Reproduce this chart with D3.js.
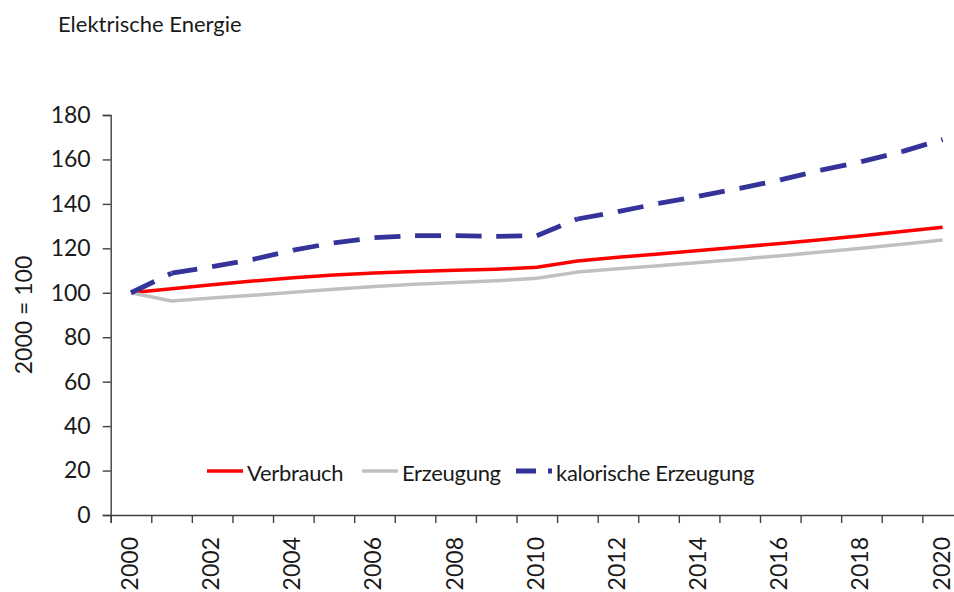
<!DOCTYPE html>
<html>
<head>
<meta charset="utf-8">
<script src="https://cdn.jsdelivr.net/npm/d3@7"></script>
<style>
    html, body { margin: 0; padding: 0; background: #fff; }
    svg { display: block; font-family: Lato, "Noto Sans", sans-serif; }
</style>
</head>
<body>
<svg id="chart" width="954" height="592"></svg>
<script>

// Categories and series (2000 = 100).
const years = [2000, 2001, 2002, 2003, 2004, 2005, 2006, 2007, 2008, 2009, 2010,
    2011, 2012, 2013, 2014, 2015, 2016, 2017, 2018, 2019, 2020];

const verbrauch = [100, 101.8, 103.6, 105.3, 106.8, 108.0, 108.9, 109.6, 110.1, 110.6, 111.5,
    114.3, 116.0, 117.5, 119.0, 120.6, 122.2, 123.9, 125.7, 127.6, 129.5];

const erzeugung = [100, 96.3, 97.6, 98.9, 100.2, 101.6, 102.8, 103.8, 104.6, 105.4, 106.5,
    109.3, 110.8, 112.2, 113.6, 115.1, 116.7, 118.3, 120.0, 121.8, 123.7];

const kalorisch = [100, 108.8, 111.8, 115.0, 119.2, 122.5, 124.8, 125.7, 125.7, 125.4, 125.7,
    133.2, 136.5, 140.2, 143.5, 147.0, 150.8, 155.2, 159.0, 163.5, 169.0];

const yTicks = [0, 20, 40, 60, 80, 100, 120, 140, 160, 180];
const xTickLabels = [2000, 2002, 2004, 2006, 2008, 2010, 2012, 2014, 2016, 2018, 2020];

const series = [
    { name: 'Verbrauch', values: verbrauch, color: '#ff0000', width: 3.5 },
    { name: 'Erzeugung', values: erzeugung, color: '#c0c0c0', width: 3.5 },
    { name: 'kalorische Erzeugung', values: kalorisch, color: '#333399', width: 4.8, dashed: true }
];

const svg = d3.select('#chart');
const ink = '#1a1a1a';
const axisColor = '#404040';

// The plot runs past the right edge of the picture, as in the reference.
const plot = { left: 110.7, right: 962.9, top: 115, bottom: 515 };

const x = d3.scaleBand().domain(years).range([plot.left, plot.right]).padding(0);
const y = d3.scaleLinear().domain([0, 180]).range([plot.bottom, plot.top]);
const cx = year => x(year) + x.bandwidth() / 2;

// Title
svg.append('text')
    .attr('x', 58).attr('y', 32)
    .attr('font-size', 22).attr('fill', ink)
    .text('Elektrische Energie');

// Y axis
const yAxis = svg.append('g')
    .attr('transform', `translate(${plot.left},0)`)
    .call(d3.axisLeft(y).tickValues(yTicks).tickSize(8).tickPadding(12));

yAxis.attr('font-family', null).attr('font-size', null);
yAxis.selectAll('text').attr('font-size', 23).attr('fill', ink);

svg.append('text')
    .attr('transform', `translate(24,${(plot.top + plot.bottom) / 2}) rotate(-90)`)
    .attr('text-anchor', 'middle').attr('dy', '0.35em')
    .attr('font-size', 23).attr('fill', ink)
    .text('2000 = 100');

// X axis: tick marks sit on the band edges, labels in the band middles.
const xEdge = d3.scaleLinear().domain([0, years.length]).range([plot.left, plot.right]);

svg.append('g')
    .attr('transform', `translate(0,${plot.bottom})`)
    .call(d3.axisBottom(xEdge).tickValues(d3.range(years.length + 1)).tickSize(8).tickFormat(''));

svg.append('g')
    .attr('class', 'x-labels')
    .selectAll('text')
    .data(xTickLabels)
    .join('text')
    .attr('transform', d => `translate(${cx(d)},${plot.bottom + 22}) rotate(-90)`)
    .attr('text-anchor', 'end').attr('dy', '0.3em')
    .attr('font-size', 23).attr('fill', ink)
    .text(d => d);

svg.selectAll('.domain, .tick line').attr('stroke', axisColor).attr('stroke-width', 1.4);

// Lines
const line = d3.line().x(d => cx(d.year)).y(d => y(d.value));

series.forEach(s => {

    const points = years.map((year, i) => ({ year, value: s.values[i] }));

    if (!s.dashed) {
        svg.append('path')
            .attr('d', line(points))
            .attr('fill', 'none').attr('stroke', s.color).attr('stroke-width', s.width)
            .attr('stroke-linejoin', 'round');
        return;
    }

    // The dash pattern restarts at every data point, so draw one path per segment.
    d3.pairs(points).forEach(pair => {
        svg.append('path')
            .attr('d', line(pair))
            .attr('fill', 'none').attr('stroke', s.color).attr('stroke-width', s.width)
            .attr('stroke-dasharray', '26,15');
    });

});

// Legend
const legendItems = [
    { ...series[0], x: 207 },
    { ...series[1], x: 362 },
    { ...series[2], x: 516 }
];

const legend = svg.append('g').attr('transform', 'translate(0,471)');

legendItems.forEach(item => {

    legend.append('line')
        .attr('x1', item.x).attr('x2', item.x + 36)
        .attr('stroke', item.color).attr('stroke-width', item.width)
        .attr('stroke-dasharray', item.dashed ? '20,12' : null);

    legend.append('text')
        .attr('x', item.x + 40).attr('dy', '0.45em')
        .attr('font-size', 22).attr('fill', ink)
        .attr('letter-spacing', -0.3)
        .text(item.name);

});

</script>
</body>
</html>
